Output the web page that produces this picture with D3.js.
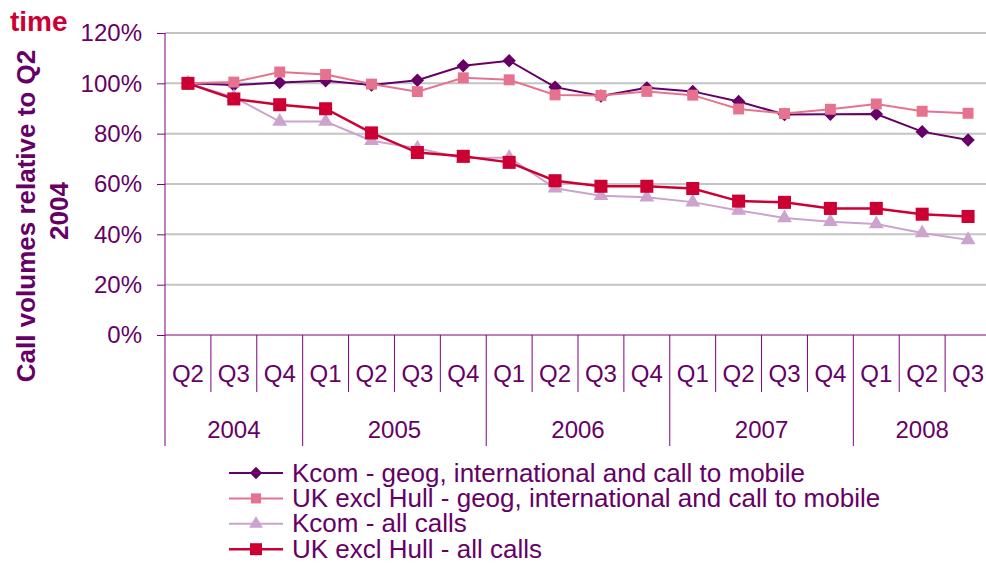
<!DOCTYPE html>
<html>
<head>
<meta charset="utf-8">
<script src="https://cdn.jsdelivr.net/npm/d3@7"></script>
<style>
  body { margin: 0; background: #fff; }
  svg { display: block; font-family: "Liberation Sans", Arial, sans-serif; }
</style>
</head>
<body>
<div id="chart"></div>
<script>
var svgWidth = 986;
var svgHeight = 563;

// quarters along the x axis
var quarters = ["Q2", "Q3", "Q4", "Q1", "Q2", "Q3", "Q4", "Q1", "Q2", "Q3", "Q4",
  "Q1", "Q2", "Q3", "Q4", "Q1", "Q2", "Q3"];
var years = ["2004", "2005", "2006", "2007", "2008"];
var yearStart = [0, 3, 7, 11, 15]; // index of first quarter of each year
var yTicks = [0, 0.2, 0.4, 0.6, 0.8, 1.0, 1.2];

// series values (share of Q2 2004)
var kcomGeog = [1.00, 0.993, 1.003, 1.01, 0.993, 1.012, 1.07, 1.09, 0.985, 0.95,
  0.982, 0.968, 0.928, 0.876, 0.877, 0.878, 0.808, 0.775];
var ukGeog = [1.00, 1.005, 1.045, 1.035, 0.997, 0.967, 1.022, 1.014, 0.954, 0.952,
  0.968, 0.953, 0.898, 0.88, 0.897, 0.918, 0.889, 0.881];
var kcomAll = [1.00, 0.945, 0.848, 0.848, 0.772, 0.742, 0.702, 0.705, 0.583, 0.553,
  0.547, 0.528, 0.495, 0.465, 0.45, 0.441, 0.405, 0.378];
var ukAll = [1.00, 0.938, 0.915, 0.899, 0.803, 0.725, 0.71, 0.686, 0.613, 0.591,
  0.591, 0.582, 0.532, 0.527, 0.503, 0.503, 0.48, 0.471];

var seriesNames = ["Kcom - geog, international and call to mobile",
  "UK excl Hull - geog, international and call to mobile",
  "Kcom - all calls",
  "UK excl Hull - all calls"];

var textColor = "#660066";
var axisColor = "#800080";

// rot = 45 turns the square marker into a diamond
var series = [
  { name: seriesNames[0], values: kcomGeog, color: "#660066", shape: d3.symbolSquare, size: 90, rot: 45, width: 2 },
  { name: seriesNames[1], values: ukGeog, color: "#E5738F", shape: d3.symbolSquare, size: 120, rot: 0, width: 2 },
  { name: seriesNames[2], values: kcomAll, color: "#CCA3CC", shape: d3.symbolTriangle, size: 95, rot: 0, width: 2 },
  { name: seriesNames[3], values: ukAll, color: "#CC0033", shape: d3.symbolSquare, size: 170, rot: 0, width: 2.5 }
];

var plot = { left: 165, right: 991, top: 33, bottom: 335 };

var svg = d3.select("#chart").append("svg")
  .attr("width", svgWidth)
  .attr("height", svgHeight);

var x = d3.scaleBand()
  .domain(d3.range(quarters.length))
  .range([plot.left, plot.right]);

var y = d3.scaleLinear()
  .domain([0, 1.2])
  .range([plot.bottom, plot.top]);

// gridlines
svg.append("g")
  .selectAll("line")
  .data(yTicks.filter(d => d > 0))
  .enter()
  .append("line")
  .attr("x1", plot.left)
  .attr("x2", plot.right)
  .attr("y1", d => y(d))
  .attr("y2", d => y(d))
  .attr("stroke", "#c4c4c4")
  .attr("stroke-width", 2);

// y axis
var leftAxis = d3.axisLeft(y)
  .tickValues(yTicks)
  .tickFormat(d3.format(".0%"))
  .tickSize(8)
  .tickPadding(15);

var yAxis = svg.append("g")
  .attr("transform", `translate(${plot.left},0)`)
  .call(leftAxis);
yAxis.select(".domain").remove();
yAxis.selectAll("line").attr("stroke", axisColor);
yAxis.selectAll("text")
  .attr("fill", textColor)
  .style("font-size", "24px");

// y axis line, runs down through the category area
svg.append("line")
  .attr("x1", plot.left).attr("x2", plot.left)
  .attr("y1", plot.top).attr("y2", 446)
  .attr("stroke", axisColor);

// x axis with quarter labels
var bottomAxis = d3.axisBottom(x)
  .tickSize(0)
  .tickPadding(30)
  .tickFormat(i => quarters[i]);

var xAxis = svg.append("g")
  .attr("transform", `translate(0,${plot.bottom})`)
  .call(bottomAxis);
xAxis.select(".domain").remove();
xAxis.selectAll("text")
  .attr("fill", textColor)
  .style("font-size", "24px");

svg.append("line")
  .attr("x1", plot.left).attr("x2", plot.right)
  .attr("y1", plot.bottom).attr("y2", plot.bottom)
  .attr("stroke", axisColor);

// quarter dividers
svg.append("g")
  .selectAll("line")
  .data(d3.range(1, quarters.length).filter(i => yearStart.indexOf(i) < 0))
  .enter()
  .append("line")
  .attr("x1", i => x(i)).attr("x2", i => x(i))
  .attr("y1", plot.bottom).attr("y2", 392)
  .attr("stroke", axisColor);

// year dividers
svg.append("g")
  .selectAll("line")
  .data(yearStart.slice(1))
  .enter()
  .append("line")
  .attr("x1", i => x(i)).attr("x2", i => x(i))
  .attr("y1", plot.bottom).attr("y2", 446)
  .attr("stroke", axisColor);

// year labels
svg.append("g")
  .selectAll("text")
  .data(years)
  .enter()
  .append("text")
  .attr("x", (d, k) => {
    var a = x(yearStart[k]);
    var b = k + 1 < yearStart.length ? x(yearStart[k + 1]) : plot.right;
    return (a + b) / 2;
  })
  .attr("y", 438)
  .attr("text-anchor", "middle")
  .attr("fill", textColor)
  .style("font-size", "24px")
  .text(d => d);

// lines and markers
var line = d3.line()
  .x((d, i) => x(i) + x.bandwidth() / 2)
  .y(d => y(d));

series.forEach(function(s) {
  var g = svg.append("g");
  g.append("path")
    .datum(s.values)
    .attr("d", line)
    .attr("fill", "none")
    .attr("stroke", s.color)
    .attr("stroke-width", s.width);
  g.selectAll("path.marker")
    .data(s.values)
    .enter()
    .append("path")
    .attr("class", "marker")
    .attr("d", d3.symbol().type(s.shape).size(s.size))
    .attr("transform", (d, i) => `translate(${x(i) + x.bandwidth() / 2},${y(d)}) rotate(${s.rot})`)
    .attr("fill", s.color);
});

// legend
var legend = svg.append("g")
  .selectAll("g")
  .data(series)
  .enter()
  .append("g")
  .attr("transform", (d, i) => `translate(229,${473 + i * 25.4})`);

legend.append("line")
  .attr("x1", 0).attr("x2", 54)
  .attr("stroke", d => d.color)
  .attr("stroke-width", d => d.width);

legend.append("path")
  .attr("d", d => d3.symbol().type(d.shape).size(d.size * 0.85)())
  .attr("transform", d => `translate(27,0) rotate(${d.rot})`)
  .attr("fill", d => d.color);

legend.append("text")
  .attr("x", 63)
  .attr("y", 8.5)
  .attr("fill", textColor)
  .style("font-size", "26px")
  .text(d => d.name);

// y axis title
svg.append("text")
  .attr("transform", "translate(35,216) rotate(-90)")
  .attr("text-anchor", "middle")
  .attr("fill", textColor)
  .style("font-size", "26px")
  .style("font-weight", "bold")
  .text("Call volumes relative to Q2");

svg.append("text")
  .attr("transform", "translate(68,211) rotate(-90)")
  .attr("text-anchor", "middle")
  .attr("fill", textColor)
  .style("font-size", "26px")
  .style("font-weight", "bold")
  .text("2004");

// clipped title remnant at top left
svg.append("text")
  .attr("x", 10)
  .attr("y", 31)
  .attr("fill", "#CC0033")
  .style("font-size", "28px")
  .style("font-weight", "bold")
  .text("time");
</script>
</body>
</html>
